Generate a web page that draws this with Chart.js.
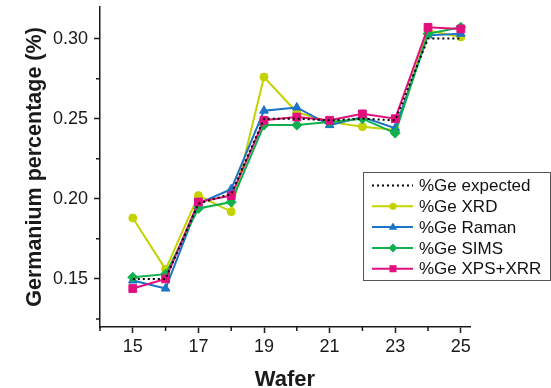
<!DOCTYPE html>
<html>
<head>
<meta charset="utf-8">
<script src="https://cdn.jsdelivr.net/npm/chart.js@4/dist/chart.umd.min.js"></script>
<style>
  html, body { margin: 0; padding: 0; background: #fff; }
  #wrap { width: 551px; height: 388px; }
</style>
</head>
<body>
<div id="wrap"><canvas id="chart"></canvas></div>
<script>
const wafers = [15, 16, 17, 18, 19, 20, 21, 22, 23, 24, 25];
const geExpected = [0.150, 0.150, 0.197, 0.203, 0.250, 0.250, 0.249, 0.250, 0.249, 0.300, 0.300];
const geXrd      = [0.188, 0.156, 0.202, 0.192, 0.276, 0.254, 0.248, 0.245, 0.243, 0.305, 0.301];
const geRaman    = [0.149, 0.144, 0.197, 0.206, 0.255, 0.257, 0.246, 0.251, 0.244, 0.302, 0.303];
const geSims     = [0.151, 0.153, 0.194, 0.198, 0.246, 0.246, 0.248, 0.250, 0.241, 0.303, 0.307];
const geXpsXrr   = [0.144, 0.150, 0.198, 0.202, 0.249, 0.251, 0.249, 0.253, 0.250, 0.307, 0.306];

const FONT = "'Liberation Sans', Arial, sans-serif";
const AXIS = '#1a1a1a';

function pts(vals) {
  return wafers.map((w, i) => ({x: w, y: vals[i]}));
}

function series(label, vals, color, style, radius, order) {
  return {
    label: label,
    data: pts(vals),
    borderColor: color,
    backgroundColor: color,
    borderWidth: 2,
    pointStyle: style,
    pointRadius: radius,
    pointBorderWidth: 1,
    order: order
  };
}

const datasets = [
  {
    label: '%Ge expected',
    data: pts(geExpected),
    borderColor: '#000',
    borderWidth: 2,
    borderDash: [2, 3],
    pointRadius: 0,
    order: 0
  },
  series('%Ge XRD', geXrd, '#c4d200', 'circle', 4, 4),
  series('%Ge Raman', geRaman, '#1b74c6', 'triangle', 5, 3),
  series('%Ge SIMS', geSims, '#10b04f', 'rectRot', 5, 2),
  series('%Ge XPS+XRR', geXpsXrr, '#e2107f', 'rect', 5.5, 1)
];

function isMajorY(v) { return Math.abs(v * 20 - Math.round(v * 20)) < 1e-6; }
function isMajorX(v) { return Math.round(v) % 2 === 1; }

// short minor ticks on both axes
const minorTicks = {
  id: 'minorTicks',
  afterDraw(chart) {
    const ctx = chart.ctx;
    const xs = chart.scales.x, ys = chart.scales.y;
    ctx.save();
    ctx.strokeStyle = AXIS;
    ctx.lineWidth = 1.5;
    ctx.beginPath();
    xs.ticks.forEach(t => {
      if (isMajorX(t.value)) return;
      const px = xs.getPixelForValue(t.value);
      ctx.moveTo(px, ys.bottom);
      ctx.lineTo(px, ys.bottom + 4);
    });
    ys.ticks.forEach(t => {
      if (isMajorY(t.value)) return;
      const py = ys.getPixelForValue(t.value);
      ctx.moveTo(xs.left, py);
      ctx.lineTo(xs.left - 4, py);
    });
    ctx.stroke();
    ctx.restore();
  }
};

function marker(ctx, style, x, y, r) {
  ctx.beginPath();
  if (style === 'circle') {
    ctx.arc(x, y, r, 0, Math.PI * 2);
  } else if (style === 'triangle') {
    ctx.moveTo(x, y - r);
    ctx.lineTo(x + r * 0.95, y + r * 0.6);
    ctx.lineTo(x - r * 0.95, y + r * 0.6);
    ctx.closePath();
  } else if (style === 'rectRot') {
    ctx.moveTo(x, y - r);
    ctx.lineTo(x + r, y);
    ctx.lineTo(x, y + r);
    ctx.lineTo(x - r, y);
    ctx.closePath();
  } else if (style === 'rect') {
    const s = r * Math.SQRT1_2;
    ctx.rect(x - s, y - s, 2 * s, 2 * s);
  }
  ctx.fill();
}

// boxed legend inside the plot, lower right
const boxLegend = {
  id: 'boxLegend',
  afterDraw(chart) {
    const ctx = chart.ctx;
    const bx = 363, by = 172, bw = 187, bh = 108;
    ctx.save();
    ctx.fillStyle = '#fff';
    ctx.fillRect(bx, by, bw, bh);
    ctx.strokeStyle = '#555';
    ctx.lineWidth = 1;
    ctx.strokeRect(bx + 0.5, by + 0.5, bw, bh);
    ctx.font = '17px ' + FONT;
    ctx.textBaseline = 'middle';
    chart.data.datasets.forEach((ds, i) => {
      const y = by + 13.5 + i * 20.8;
      ctx.strokeStyle = ds.borderColor;
      ctx.lineWidth = 2;
      ctx.setLineDash(ds.borderDash || []);
      ctx.beginPath();
      ctx.moveTo(372, y);
      ctx.lineTo(413, y);
      ctx.stroke();
      ctx.setLineDash([]);
      if (ds.pointRadius) {
        ctx.fillStyle = ds.backgroundColor;
        marker(ctx, ds.pointStyle, 393, y, ds.pointRadius - 0.5);
      }
      ctx.fillStyle = '#111';
      ctx.fillText(ds.label, 419, y + 1);
    });
    ctx.restore();
  }
};

new Chart(document.getElementById('chart'), {
  type: 'line',
  data: {datasets: datasets},
  options: {
    responsive: true,
    maintainAspectRatio: false,
    animation: false,
    layout: {padding: {top: 7, right: 81, left: 0, bottom: 0}},
    plugins: {
      legend: {display: false},
      tooltip: {enabled: false}
    },
    scales: {
      x: {
        type: 'linear',
        min: 14,
        max: 25.28,
        afterFit: s => { s.height = 61; },
        border: {color: AXIS, width: 1.5},
        grid: {
          drawOnChartArea: false,
          tickLength: 6,
          tickWidth: 1.5,
          tickColor: c => isMajorX(c.tick.value) ? AXIS : 'rgba(0,0,0,0)'
        },
        ticks: {
          stepSize: 1,
          includeBounds: false,
          autoSkip: false,
          maxRotation: 0,
          padding: 3,
          color: '#1a1a1a',
          font: {family: FONT, size: 18},
          callback: v => isMajorX(v) ? String(v) : ''
        },
        title: {
          display: true,
          text: 'Wafer',
          color: '#1a1a1a',
          font: {family: FONT, size: 22, weight: 'bold', lineHeight: 0.75},
          padding: {top: 0, bottom: 0}
        }
      },
      y: {
        min: 0.12,
        max: 0.3197,
        afterFit: s => { s.width = 100; s.paddingTop = 0; s.paddingBottom = 0; },
        border: {color: AXIS, width: 1.5},
        grid: {
          drawOnChartArea: false,
          tickLength: 6,
          tickWidth: 1.5,
          tickColor: c => isMajorY(c.tick.value) ? AXIS : 'rgba(0,0,0,0)'
        },
        ticks: {
          stepSize: 0.025,
          includeBounds: false,
          autoSkip: false,
          padding: 6,
          color: '#1a1a1a',
          font: {family: FONT, size: 18},
          callback: v => isMajorY(v) ? v.toFixed(2) : ''
        },
        title: {
          display: true,
          text: 'Germanium percentage (%)',
          color: '#1a1a1a',
          font: {family: FONT, size: 21.5, weight: 'bold', lineHeight: 1.2},
          padding: {top: 22, bottom: 0}
        }
      }
    }
  },
  plugins: [minorTicks, boxLegend]
});
</script>
</body>
</html>
